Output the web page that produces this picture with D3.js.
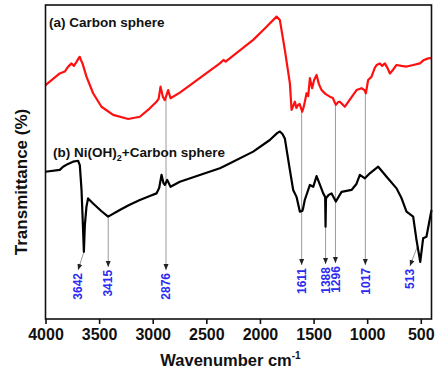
<!DOCTYPE html>
<html>
<head>
<meta charset="utf-8">
<script src="https://cdn.jsdelivr.net/npm/d3@7"></script>
<style>
  body { margin: 0; background: #fff; }
  svg text { font-family: "Liberation Sans", Arial, sans-serif; }
</style>
</head>
<body>
<div class="svg-container"></div>
<script>
// spectrum (a) carbon sphere
const waveA = [4000, 3867, 3820, 3790, 3757, 3735, 3711, 3690, 3680, 3670, 3655, 3618, 3556, 3478, 3369, 3229, 3120, 3027, 2965, 2945, 2927, 2905, 2887, 2856, 2834, 2747, 2374, 2340, 2320, 2063, 1950, 1845, 1814, 1768, 1721, 1705, 1690, 1674, 1660, 1644, 1630, 1606, 1590, 1565, 1550, 1534, 1520, 1513, 1495, 1472, 1450, 1425, 1390, 1348, 1320, 1292, 1270, 1255, 1208, 1150, 1099, 1052, 1025, 1012, 991, 960, 930, 912, 881, 860, 835, 810, 788, 760, 726, 680, 633, 570, 508, 470, 431, 400];
const transA = [74.5, 78.2, 78.8, 80.3, 81.4, 80.6, 81.9, 83.1, 83.5, 82.5, 81.4, 77.2, 71.9, 67.6, 65.0, 63.7, 64.4, 67.1, 69.2, 70.1, 74.0, 70.7, 69.7, 72.9, 70.3, 72.1, 81.4, 82.5, 82.0, 88.9, 92.7, 96.3, 95.2, 85.7, 75.1, 66.6, 67.8, 69.2, 67.2, 68.2, 68.5, 66.0, 67.8, 71.9, 71.0, 76.7, 74.5, 73.5, 76.1, 77.7, 74.8, 72.9, 71.7, 70.8, 70.4, 68.2, 69.1, 69.2, 67.6, 70.4, 72.9, 73.5, 72.9, 71.9, 76.1, 77.1, 79.9, 80.9, 81.4, 80.6, 81.4, 79.9, 78.2, 79.3, 80.9, 80.6, 80.4, 80.9, 81.4, 82.5, 83.0, 83.1];

// spectrum (b) Ni(OH)2 + carbon sphere
const waveB = [4000, 3867, 3836, 3790, 3743, 3696, 3680, 3664, 3652, 3642, 3633, 3618, 3603, 3556, 3480, 3416, 3307, 3220, 3120, 3027, 2965, 2940, 2918, 2900, 2887, 2865, 2834, 2747, 2374, 2330, 2063, 1908, 1840, 1814, 1790, 1768, 1721, 1690, 1659, 1628, 1605, 1597, 1582, 1534, 1503, 1472, 1440, 1410, 1392, 1388, 1384, 1360, 1332, 1292, 1239, 1146, 1100, 1068, 1021, 975, 897, 819, 726, 680, 633, 571, 540, 505, 478, 447, 400];
const transB = [46.9, 47.5, 48.5, 49.4, 50.1, 50.4, 49.0, 41.1, 30.6, 21.4, 29.9, 35.8, 38.4, 36.8, 34.4, 32.6, 34.7, 36.3, 37.9, 39.2, 40.0, 41.7, 45.9, 43.3, 42.7, 44.3, 42.1, 43.7, 48.0, 48.7, 53.3, 57.0, 59.2, 59.7, 58.9, 57.5, 47.5, 41.1, 38.9, 34.2, 34.4, 35.3, 37.9, 42.7, 42.1, 45.5, 42.7, 40.0, 38.9, 29.4, 38.4, 39.5, 40.0, 37.4, 40.5, 41.1, 43.0, 45.9, 44.8, 46.4, 48.5, 45.3, 41.6, 38.5, 34.2, 32.6, 25.2, 18.2, 25.7, 26.2, 34.7];

const xTicks = [4000, 3500, 3000, 2500, 2000, 1500, 1000, 500];

// peak annotations
const peakLabels = ["3642", "3415", "2876", "1611", "1388", "1296", "1017", "513"];
const peakFrom = [3642, 3415, 2876, 1611, 1388, 1296, 1017, 530];   // arrow start (on the curve)
const peakTo = [3696, 3415, 2876, 1611, 1388, 1296, 1017, 601];     // arrow tip
const peakSeries = ["b", "b", "a", "a", "b", "a", "a", "b"];
const peakTipT = [15.6, 16.6, 15.6, 17.2, 17.5, 17.8, 17.2, 16.9];

const width = 437, height = 370;
const margin = {top: 5, right: 5.5, bottom: 51, left: 45.5};

const svg = d3.select(".svg-container").append("svg")
  .attr("width", width)
  .attr("height", height);

const x = d3.scaleLinear().domain([4000, 400]).range([margin.left, width - margin.right]);
const y = d3.scaleLinear().domain([0, 100]).range([height - margin.bottom, margin.top]);

const seriesA = waveA.map((w, i) => ({w: w, t: transA[i]}));
const seriesB = waveB.map((w, i) => ({w: w, t: transB[i]}));

// value of a spectrum at a wavenumber (descending order)
function valueAt(series, w) {
  for (let i = 0; i < series.length - 1; i++) {
    const p = series[i], q = series[i + 1];
    if (w <= p.w && w >= q.w) {
      const f = (p.w - w) / (p.w - q.w);
      return p.t + f * (q.t - p.t);
    }
  }
  return series[series.length - 1].t;
}

svg.append("defs").append("marker")
  .attr("id", "arrow")
  .attr("viewBox", "0 -3 6 6")
  .attr("refX", 6)
  .attr("refY", 0)
  .attr("markerWidth", 6)
  .attr("markerHeight", 6)
  .attr("markerUnits", "userSpaceOnUse")
  .attr("orient", "auto")
  .append("path")
  .attr("d", "M0,-2.5L6,0L0,2.5Z")
  .attr("fill", "#222");

// annotation arrows
peakLabels.forEach((lab, i) => {
  const s = peakSeries[i] === "a" ? seriesA : seriesB;
  const tipX = x(peakTo[i]);
  const tipY = y(peakTipT[i]);
  svg.append("line")
    .attr("x1", x(peakFrom[i]))
    .attr("y1", y(valueAt(s, peakFrom[i])))
    .attr("x2", tipX)
    .attr("y2", tipY)
    .attr("stroke", "#9a9a9a")
    .attr("stroke-width", 1)
    .attr("marker-end", "url(#arrow)");

  svg.append("text")
    .attr("transform", `translate(${tipX},${tipY + 3}) rotate(-90)`)
    .attr("dy", "0.35em")
    .attr("text-anchor", "end")
    .attr("font-size", 12)
    .attr("font-weight", "bold")
    .attr("fill", "#2a2af0")
    .text(lab);
});

const line = d3.line().x(d => x(d.w)).y(d => y(d.t));

svg.append("path")
  .datum(seriesA)
  .attr("fill", "none")
  .attr("stroke", "#ff1010")
  .attr("stroke-width", 2.2)
  .attr("stroke-linejoin", "round")
  .attr("d", line);

svg.append("path")
  .datum(seriesB)
  .attr("fill", "none")
  .attr("stroke", "#000")
  .attr("stroke-width", 2.2)
  .attr("stroke-linejoin", "round")
  .attr("d", line);

// frame
svg.append("rect")
  .attr("x", margin.left)
  .attr("y", margin.top)
  .attr("width", width - margin.left - margin.right)
  .attr("height", height - margin.top - margin.bottom)
  .attr("fill", "none")
  .attr("stroke", "#111")
  .attr("stroke-width", 1.6);

const xAxis = d3.axisBottom(x).tickValues(xTicks).tickSize(5).tickSizeOuter(0).tickFormat(d3.format("d"));
const gx = svg.append("g")
  .attr("transform", `translate(0,${height - margin.bottom})`)
  .call(xAxis);
gx.select(".domain").remove();
gx.selectAll(".tick line").attr("stroke", "#111").attr("stroke-width", 1.6);
gx.selectAll(".tick text")
  .attr("y", 10)
  .attr("fill", "#111")
  .attr("font-size", 16)
  .attr("font-weight", "bold")
  .attr("font-family", "'Liberation Sans', Arial, sans-serif");

// axis titles
const xt = svg.append("text")
  .attr("x", (margin.left + width - margin.right) / 2 - 8)
  .attr("y", height - 4)
  .attr("text-anchor", "middle")
  .attr("font-size", 16.5)
  .attr("font-weight", "bold")
  .attr("fill", "#111");
xt.append("tspan").text("Wavenumber cm");
xt.append("tspan").attr("dy", -7).attr("font-size", 10).text("-1");

svg.append("text")
  .attr("transform", `translate(27,${margin.top + 177}) rotate(-90)`)
  .attr("text-anchor", "middle")
  .attr("font-size", 17)
  .attr("font-weight", "bold")
  .attr("fill", "#111")
  .text("Transmittance (%)");

// series labels
svg.append("text")
  .attr("x", 49)
  .attr("y", 27)
  .attr("font-size", 13.5)
  .attr("font-weight", "bold")
  .attr("fill", "#111")
  .text("(a) Carbon sphere");

const lb = svg.append("text")
  .attr("x", 53)
  .attr("y", 157)
  .attr("font-size", 13.5)
  .attr("font-weight", "bold")
  .attr("fill", "#111");
lb.append("tspan").text("(b) Ni(OH)");
lb.append("tspan").attr("dy", 4).attr("font-size", 9).text("2");
lb.append("tspan").attr("dy", -4).text("+Carbon sphere");
</script>
</body>
</html>
